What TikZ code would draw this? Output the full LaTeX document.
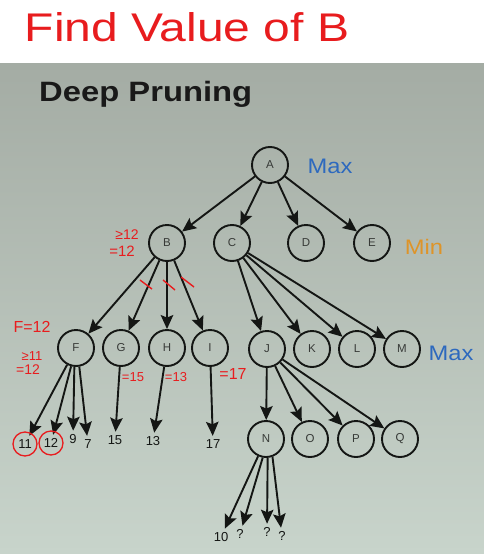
\documentclass[tikz,border=0pt]{standalone}
\usepackage{fontspec}
\setmainfont{Liberation Sans}
\usetikzlibrary{arrows.meta}
\definecolor{bgtop}{RGB}{164,172,164}
\definecolor{bgbot}{RGB}{200,212,203}
\definecolor{ink}{RGB}{20,22,20}
\definecolor{lbl}{RGB}{55,58,55}
\definecolor{hand}{RGB}{232,28,30}
\definecolor{maxblue}{RGB}{45,105,190}
\definecolor{minorange}{RGB}{222,148,40}
\tikzset{
  tnode/.style={circle,draw=ink,line width=1.9pt,minimum size=36pt,inner sep=0pt,
    text=lbl,font=\fontsize{11.5}{11.5}\selectfont},
  leaf/.style={inner sep=3.5pt,text=ink,font=\fontsize{13}{13}\selectfont},
  arr/.style={draw=ink,line width=1.9pt,-{Stealth[length=14pt,width=12.5pt,inset=2.5pt]}},
  handtxt/.style={text=hand,inner sep=0pt},
  strike/.style={draw=hand,line width=1.4pt},
  lvl/.style={inner sep=0pt,xscale=1.13,font=\fontsize{21}{21}\selectfont}
}
\begin{document}
\begin{tikzpicture}[x=1pt,y=-1pt]
\useasboundingbox (0,0) rectangle (484,554);
\fill[white] (0,0) rectangle (484,63);
\shade[top color=bgtop,bottom color=bgbot] (0,63) rectangle (484,554);
% title
\node[handtxt,font=\fontsize{40}{40}\selectfont,xscale=1.2] (find) at (187,27) {Find Value of B};
\node[inner sep=0pt,anchor=base west,xscale=1.17,font=\bfseries\fontsize{28}{28}\selectfont,text=black!90] (title) at (39,101.5) {Deep Pruning};
% tree nodes
\node[tnode] (A) at (270,165) {A};
\node[tnode] (B) at (167,243) {B};
\node[tnode] (C) at (232,243) {C};
\node[tnode] (D) at (306,243) {D};
\node[tnode] (E) at (372,243) {E};
\node[tnode] (F) at (76,348) {F};
\node[tnode] (G) at (121,348) {G};
\node[tnode] (H) at (167,348) {H};
\node[tnode] (I) at (210,348) {I};
\node[tnode] (J) at (267,349) {J};
\node[tnode] (K) at (312,349) {K};
\node[tnode] (L) at (357,349) {L};
\node[tnode] (M) at (402,349) {M};
\node[tnode] (N) at (266,439) {N};
\node[tnode] (O) at (310,439) {O};
\node[tnode] (P) at (356,439) {P};
\node[tnode] (Q) at (400,439) {Q};
% level labels
\node[lvl,text=maxblue] (max1) at (330,166) {Max};
\node[lvl,text=minorange] (min1) at (424,247) {Min};
\node[lvl,text=maxblue] (max2) at (451,353) {Max};
% leaves
\node[leaf] (l11) at (25,444) {11};
\node[leaf] (l12) at (51,443) {12};
\node[leaf] (l9) at (73,439) {9};
\node[leaf] (l7) at (88,444) {7};
\node[leaf] (l15) at (115,440) {15};
\node[leaf] (l13) at (153,441) {13};
\node[leaf] (l17) at (213,444) {17};
\node[leaf] (l10) at (221,537) {10};
\node[leaf] (q1) at (240,534) {?};
\node[leaf] (q2) at (267,532) {?};
\node[leaf] (q3) at (282,536) {?};
% edges
\foreach \c in {B,C,D,E} \draw[arr] (A) -- (\c);
\foreach \c in {F,G,H,I} \draw[arr] (B) -- (\c);
\foreach \c in {J,K,L,M} \draw[arr] (C) -- (\c);
\foreach \c in {N,O,P,Q} \draw[arr] (J) -- (\c);
\draw[arr] (F) -- (l11);
\draw[arr] (F.-105) -- (l12);
\draw[arr] (F.-95) -- (l9);
\draw[arr] (F.-80) -- (l7);
\draw[arr] (G) -- (l15);
\draw[arr] (H) -- (l13);
\draw[arr] (I) -- (l17);
\draw[arr] (N) -- (l10);
\draw[arr] (N.-100) -- (q1);
\draw[arr] (N.-85) -- (q2);
\draw[arr] (N.-70) -- (q3);
% red annotations
\node[handtxt,font=\fontsize{14}{14}\selectfont] (bge) at (127,235) {≥12};
\node[handtxt,font=\fontsize{15}{15}\selectfont] (beq) at (122,251) {=12};
\node[handtxt,font=\fontsize{16}{16}\selectfont] (feq) at (32,327) {F=12};
\node[handtxt,font=\fontsize{13}{13}\selectfont] (fge) at (32,356) {≥11};
\node[handtxt,font=\fontsize{14}{14}\selectfont] (feq2) at (28,370) {=12};
\node[handtxt,font=\fontsize{13}{13}\selectfont] (geq) at (133,377) {=15};
\node[handtxt,font=\fontsize{13}{13}\selectfont] (heq) at (176,377) {=13};
\node[handtxt,font=\fontsize{16}{16}\selectfont] (ieq) at (233,374) {=17};
\draw[strike] (140,280) -- (152,289);
\draw[strike] (163,280) -- (175,290);
\draw[strike] (181,277) -- (194,287);
\draw[hand,line width=1.3pt] (l11) circle (12pt);
\draw[hand,line width=1.3pt] (l12) circle (12pt);
\end{tikzpicture}
\end{document}
